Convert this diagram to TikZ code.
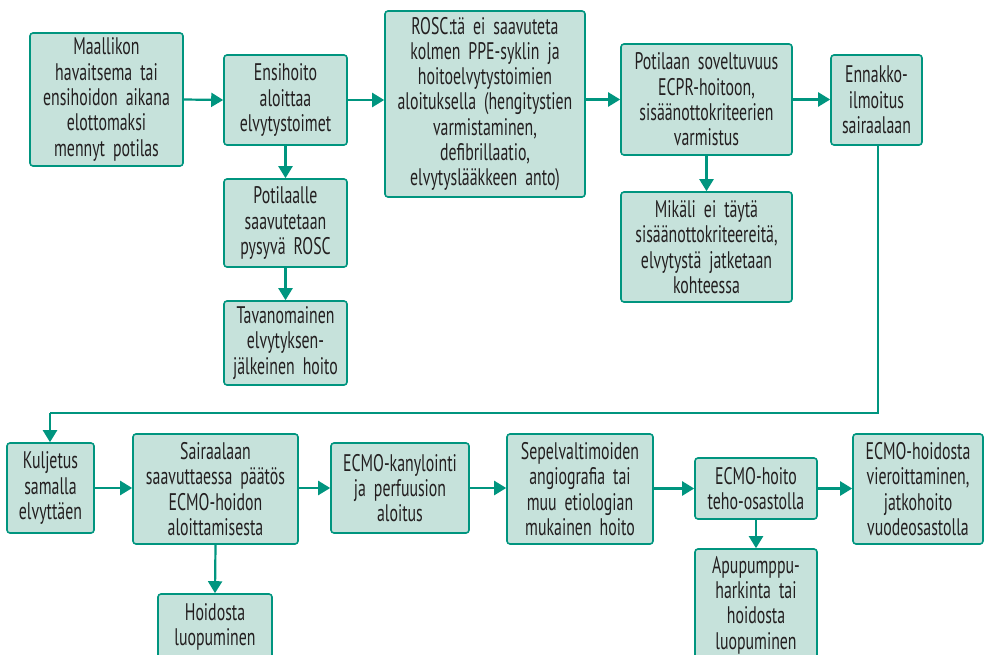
\documentclass[tikz,border=0pt]{standalone}
\usepackage{fontspec}
\setmainfont{PT Sans}[FakeStretch=0.66,WordSpace=0.75]
\usetikzlibrary{arrows.meta}
\definecolor{teal1}{HTML}{00957F}
\definecolor{fillc}{HTML}{C6E2DB}
\definecolor{txt}{HTML}{231F20}
\tikzset{
  box/.style={draw=teal1, fill=fillc, line width=1.6pt, rounded corners=3pt,
    align=center, inner sep=0pt, text=txt,
    font=\fontsize{24}{25.3}\selectfont},
  conn/.style={draw=teal1, line width=2.2pt, -{Triangle[length=12pt,width=14pt]}},
  plain/.style={draw=teal1, line width=2.2pt}
}
\newcommand{\bx}[7]{%
  \node[box, minimum width=#4pt, minimum height=#5pt, text width=#6pt] (#1) at (#2,#3) {#7};}
\begin{document}
\begin{tikzpicture}[x=1pt,y=-1pt]
\useasboundingbox (0,0) rectangle (984,655);
\clip (0,0) rectangle (984,655);
\bx{m1}{106.5}{99.5}{153}{133}{150}{Maallikon\\havaitsema tai\\ensihoidon aikana\\elottomaksi\\mennyt potilas}
\bx{m2}{285.5}{100}{123}{90}{120}{Ensihoito\\aloittaa\\elvytystoimet}
\bx{m3}{285.5}{223}{123}{88}{120}{Potilaalle\\saavutetaan\\pysyvä ROSC}
\bx{m4}{285.5}{343}{123}{84}{120}{Tavanomainen\\elvytyksen-\\jälkeinen hoito}
\bx{ro}{485}{104}{200}{186}{198}{ROSC:tä ei saavuteta\\kolmen PPE-syklin ja\\hoitoelvytystoimien\\aloituksella (hengitystien\\varmistaminen,\\defibrillaatio,\\elvytyslääkkeen anto)}
\bx{po}{706.5}{99.5}{171}{111}{168}{Potilaan soveltuvuus\\ECPR-hoitoon,\\sisäänottokriteerien\\varmistus}
\bx{mi}{706.5}{247}{171}{110}{168}{Mikäli ei täytä\\sisäänottokriteereitä,\\elvytystä jatketaan\\kohteessa}
\bx{en}{876.5}{100}{91}{90}{88}{Ennakko-\\ilmoitus\\sairaalaan}
\bx{ku}{50.5}{488}{87}{90}{85}{Kuljetus\\samalla\\elvyttäen}
\bx{sa}{215.5}{489}{165}{110}{162}{Sairaalaan\\saavuttaessa päätös\\ECMO-hoidon\\aloittamisesta}
\bx{ho}{215}{627}{114}{66}{110}{Hoidosta\\luopuminen}
\bx{ka}{400}{488}{138}{90}{135}{ECMO-kanylointi\\ja perfuusion\\aloitus}
\bx{se}{580}{489}{146}{110}{143}{Sepelvaltimoiden\\angiografia tai\\muu etiologian\\mukainen hoito}
\bx{te}{756}{488.5}{122}{61}{120}{ECMO-hoito\\teho-osastolla}
\bx{ap}{756}{605}{122}{112}{120}{Apupumppu-\\harkinta tai\\hoidosta\\luopuminen}
\bx{vi}{918}{489}{130}{110}{128}{ECMO-hoidosta\\vieroittaminen,\\jatkohoito\\vuodeosastolla}
\coordinate (c1) at (878,413);
\coordinate (c2) at (50,413);
\draw[conn] (m1.east) -- (m2.west);
\draw[conn] (m2.east) -- (m2.east -| ro.west);
\draw[conn] (m2.south) -- (m3.north);
\draw[conn] (m3.south) -- (m4.north);
\draw[conn] (ro.east |- po.west) -- (po.west);
\draw[conn] (po.south) -- (mi.north);
\draw[conn] (po.east) -- (po.east -| en.west);
\draw[plain] (en.south -| c1) -- (c1) -- (c2);
\draw[conn] (c2) -- (c2 |- ku.north);
\draw[conn] (ku.east) -- (ku.east -| sa.west);
\draw[conn] (sa.south) -- (ho.north);
\draw[conn] (sa.east |- ka.west) -- (ka.west);
\draw[conn] (ka.east) -- (ka.east -| se.west);
\draw[conn] (se.east |- te.west) -- (te.west);
\draw[conn] (te.south) -- (ap.north);
\draw[conn] (te.east) -- (te.east -| vi.west);
\end{tikzpicture}
\end{document}
